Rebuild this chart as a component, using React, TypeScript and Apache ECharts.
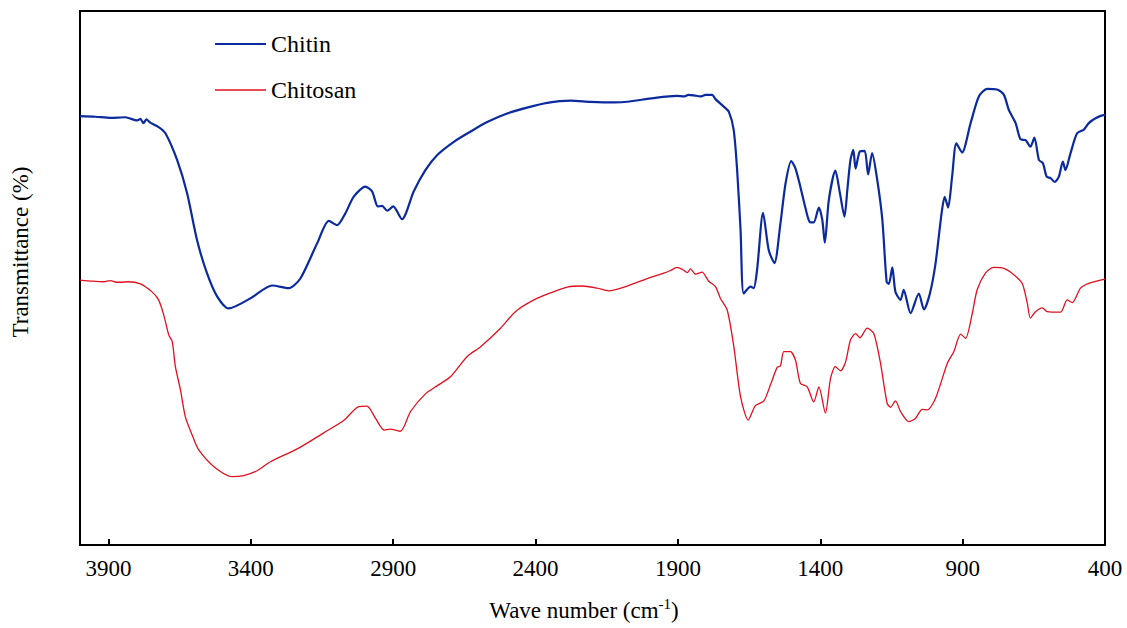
import React, { useEffect, useRef } from "react";
import * as echarts from "echarts";

const xTickValues = [3900, 3400, 2900, 2400, 1900, 1400, 900, 400];

const chitinWn = [4000,3946,3893,3841,3799,3788,3777,3767,3753,3725,3700,3659,3624,3589,3554,3518,3478,3401,3325,3267,3226,3167,3126,3097,3068,3039,2998,2974,2954,2939,2921,2900,2869,2828,2787,2746,2687,2629,2570,2500,2430,2359,2277,2207,2125,2078,1985,1903,1879,1863,1844,1821,1803,1780,1768,1739,1721,1704,1692,1680,1669,1645,1634,1622,1601,1581,1561,1540,1522,1502,1487,1470,1452,1437,1423,1405,1393,1384,1370,1347,1331,1315,1305,1294,1284,1276,1261,1244,1232,1218,1200,1182,1167,1159,1147,1136,1118,1107,1083,1054,1036,1015,995,974,963,951,937,922,902,872,843,814,779,755,738,714,697,679,662,648,632,618,605,591,577,562,548,539,521,498,474,457,433,404,400];
const chitinT = [80.3,80.2,80.0,80.1,79.5,79.8,79.0,79.7,79.1,78.3,77.1,72.1,65.9,57.1,50.9,46.5,44.3,46.2,48.6,48.1,49.9,56.5,60.7,59.9,62.1,65.2,67.1,66.2,63.4,63.5,62.6,63.4,61.0,66.2,70.2,73.0,75.5,77.4,79.2,80.8,81.9,82.8,83.2,83.0,82.9,83.0,83.7,84.1,84.0,84.3,84.2,84.0,84.3,84.3,83.5,82.1,81.1,77.7,70.2,59.0,47.1,48.4,48.1,51.5,62.2,55.2,52.8,60.2,67.7,71.9,70.5,67.1,63.1,60.5,60.4,63.2,60.9,56.6,64.6,70.1,65.9,61.5,66.5,72.1,74.0,70.5,73.7,73.8,69.4,73.4,68.4,60.9,49.3,48.9,52.0,47.4,45.9,47.8,43.4,47.1,44.1,47.1,52.8,62.1,65.2,63.2,69.0,75.2,73.5,79.0,84.0,85.4,85.3,84.3,81.5,79.0,76.0,75.8,74.6,76.3,72.1,71.5,69.0,68.7,68.0,69.0,71.8,70.2,73.4,77.1,77.8,79.0,79.9,80.5,80.5];

const chitosanWn = [4000,3956,3917,3893,3872,3858,3830,3788,3747,3724,3706,3688,3676,3665,3647,3630,3606,3583,3524,3466,3425,3378,3331,3237,3144,3074,3021,2992,2962,2931,2910,2875,2839,2787,2746,2699,2640,2594,2523,2471,2406,2348,2289,2236,2184,2143,2078,2008,1950,1926,1903,1884,1867,1856,1838,1815,1792,1768,1751,1727,1704,1680,1653,1628,1598,1575,1551,1540,1528,1505,1487,1470,1446,1423,1405,1382,1364,1347,1329,1311,1294,1276,1261,1235,1212,1189,1165,1153,1136,1118,1089,1066,1042,1024,995,954,931,907,890,866,849,820,791,755,720,691,673,662,644,620,603,556,533,515,486,457,400];
const chitosanT = [49.6,49.4,49.3,49.5,49.2,49.2,49.3,48.9,47.4,45.9,43.1,39.3,38.1,33.4,29.0,24.0,20.6,17.8,14.4,12.8,13.0,13.9,15.6,18.0,21.0,23.3,25.9,26.0,23.7,21.5,21.7,21.3,25.0,28.3,29.8,31.5,35.3,37.1,40.6,43.7,45.9,47.2,48.3,48.5,48.1,47.6,48.5,49.9,50.9,51.4,52.0,51.6,51.0,51.7,50.7,51.1,49.4,48.4,46.2,44.0,37.3,27.8,23.4,26.1,27.0,30.0,33.3,33.5,36.2,36.2,34.6,30.3,29.6,26.8,29.6,24.7,31.2,33.4,32.6,34.3,38.4,39.6,38.8,40.6,39.6,34.2,26.5,25.8,27.0,25.0,23.1,23.7,25.4,25.3,27.5,34.0,36.2,39.5,38.7,43.4,47.8,50.9,52.0,51.8,50.6,49.0,45.3,42.5,43.7,44.4,43.7,43.6,45.9,45.4,48.1,49.0,49.8];

const seriesNames = ["Chitin", "Chitosan"];
const seriesColors = ["#0B2A9E", "#E0101E"];

const FONT = "'Liberation Serif', 'Times New Roman', serif";

function zip(xs: number[], ys: number[]) {
  return xs.map((x, i) => [x, ys[i]]);
}

export default function App() {
  const ref = useRef<HTMLDivElement>(null);
  useEffect(() => {
    if (!ref.current) return;
    const chart = echarts.init(ref.current, null, { renderer: "svg" });
    chart.setOption({
      animation: false,
      backgroundColor: "#ffffff",
      textStyle: { fontFamily: FONT },
      grid: {
        left: 80,
        right: 22,
        top: 11,
        bottom: 83,
        show: true,
        borderColor: "#000",
        borderWidth: 2,
        containLabel: false,
        outerBoundsMode: "none",
      },
      xAxis: {
        type: "value",
        min: 400,
        max: 4000,
        inverse: true,
        splitLine: { show: false },
        axisLine: { show: true, lineStyle: { color: "#000", width: 2 } },
        axisTick: {
          show: true,
          inside: true,
          length: 6,
          lineStyle: { color: "#000", width: 2 },
          customValues: xTickValues,
        },
        axisLabel: {
          customValues: xTickValues,
          formatter: (v: number) => String(v),
          color: "#000",
          fontSize: 23,
          fontFamily: FONT,
          margin: 12,
        },
      },
      yAxis: {
        type: "value",
        min: 0,
        max: 100,
        splitLine: { show: false },
        axisLine: { show: true, lineStyle: { color: "#000", width: 2 } },
        axisTick: { show: false },
        axisLabel: { show: false },
      },
      series: [
        {
          name: seriesNames[0],
          type: "line",
          data: zip(chitinWn, chitinT),
          showSymbol: false,
          smooth: 0.25,
          lineStyle: { color: seriesColors[0], width: 2.2 },
          itemStyle: { color: seriesColors[0] },
        },
        {
          name: seriesNames[1],
          type: "line",
          data: zip(chitosanWn, chitosanT),
          showSymbol: false,
          smooth: 0.25,
          lineStyle: { color: seriesColors[1], width: 1.3 },
          itemStyle: { color: seriesColors[1] },
        },
      ],
      graphic: [
        {
          type: "line",
          shape: { x1: 215, y1: 44, x2: 266, y2: 44 },
          style: { stroke: seriesColors[0], lineWidth: 2 },
        },
        {
          type: "text",
          x: 271,
          y: 44,
          style: {
            text: seriesNames[0],
            fontSize: 24,
            fontFamily: FONT,
            fill: "#000",
            verticalAlign: "middle",
            align: "left",
          },
        },
        {
          type: "line",
          shape: { x1: 215, y1: 90, x2: 266, y2: 90 },
          style: { stroke: seriesColors[1], lineWidth: 1.5 },
        },
        {
          type: "text",
          x: 271,
          y: 90,
          style: {
            text: seriesNames[1],
            fontSize: 24,
            fontFamily: FONT,
            fill: "#000",
            verticalAlign: "middle",
            align: "left",
          },
        },
        {
          type: "text",
          x: 20,
          y: 252,
          rotation: Math.PI / 2,
          style: {
            text: "Transmittance (%)",
            fontSize: 23,
            fontFamily: FONT,
            fill: "#000",
            align: "center",
            verticalAlign: "middle",
          },
        },
        {
          type: "text",
          x: 584,
          y: 610,
          style: {
            text: "Wave number (cm{sup|-1})",
            fontSize: 23,
            fontFamily: FONT,
            fill: "#000",
            align: "center",
            verticalAlign: "middle",
            rich: {
              sup: {
                fontSize: 15,
                fontFamily: FONT,
                fill: "#000",
                padding: [0, 0, 12, 0],
              },
            },
          },
        },
      ],
    });
    return () => chart.dispose();
  }, []);
  return (
    <div
      ref={ref}
      style={{ position: "fixed", left: 0, top: 0, width: 1127, height: 628, background: "#fff" }}
    />
  );
}
